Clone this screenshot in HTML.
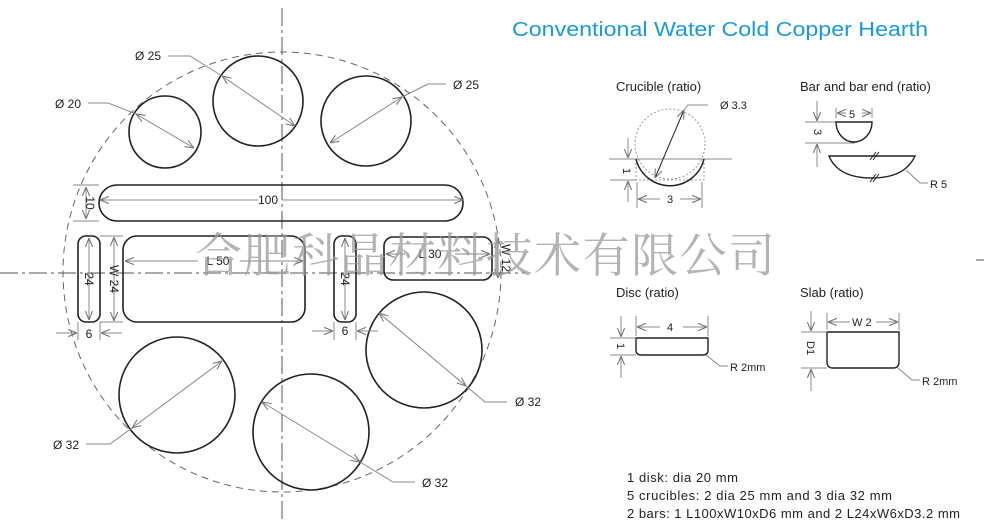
<!DOCTYPE html>
<html><head><meta charset="utf-8"><style>
html,body{margin:0;padding:0;background:#fff;}
svg{display:block;font-family:"Liberation Sans",sans-serif;}
</style></head><body>
<svg width="984" height="523" viewBox="0 0 984 523" xmlns="http://www.w3.org/2000/svg">
<defs>
<marker id="a" viewBox="0 0 10 10" refX="10" refY="5" markerWidth="9" markerHeight="9" orient="auto-start-reverse" markerUnits="userSpaceOnUse">
<path d="M0,1 L10,5 L0,9" fill="none" stroke="#777" stroke-width="1.2"/></marker>
</defs>
<g stroke="#555" stroke-width="1" fill="none" stroke-dasharray="18,4,3,4">
<line x1="282" y1="8" x2="282" y2="523"/>
<line x1="0" y1="273" x2="525" y2="273"/>
</g>
<ellipse cx="282" cy="272" rx="219" ry="220" fill="none" stroke="#666" stroke-width="1" stroke-dasharray="7,5"/>
<g fill="none" stroke="#222" stroke-width="1.6">
<circle cx="165" cy="132" r="36"/>
<circle cx="258" cy="101" r="45"/>
<circle cx="366" cy="121" r="45"/>
<rect x="99" y="185" width="364" height="36" rx="18"/>
<rect x="78" y="236" width="22" height="86" rx="8"/>
<rect x="123" y="236" width="182" height="86" rx="14"/>
<rect x="334" y="236" width="22" height="86" rx="8"/>
<rect x="384" y="237" width="108" height="43" rx="9"/>
<circle cx="177" cy="395" r="58"/>
<circle cx="311" cy="432" r="58"/>
<circle cx="424" cy="350" r="58"/>
</g>
<g stroke="#888" stroke-width="1" fill="none">
<line x1="136" y1="114" x2="194" y2="148" marker-start="url(#a)" marker-end="url(#a)"/>
<polyline points="88,103 108,103 136,114"/>
<line x1="222" y1="76" x2="295" y2="126" marker-start="url(#a)" marker-end="url(#a)"/>
<polyline points="168,56 190,56 222,76"/>
<line x1="330" y1="143" x2="402" y2="97" marker-start="url(#a)" marker-end="url(#a)"/>
<polyline points="402,97 428,84 446,84"/>
<line x1="100" y1="200" x2="258" y2="200" marker-start="url(#a)"/>
<line x1="282" y1="200" x2="463" y2="200" marker-end="url(#a)"/>
<line x1="73" y1="185" x2="99" y2="185"/><line x1="73" y1="221" x2="99" y2="221"/>
<line x1="86" y1="187" x2="86" y2="219" marker-start="url(#a)" marker-end="url(#a)"/>
<line x1="89" y1="238" x2="89" y2="320" marker-start="url(#a)" marker-end="url(#a)"/>
<line x1="114" y1="237" x2="114" y2="321" marker-start="url(#a)" marker-end="url(#a)"/>
<line x1="100" y1="236" x2="123" y2="236"/><line x1="100" y1="322" x2="123" y2="322"/>
<line x1="125" y1="261" x2="198" y2="261" marker-start="url(#a)"/>
<line x1="240" y1="261" x2="303" y2="261" marker-end="url(#a)"/>
<line x1="345" y1="238" x2="345" y2="320" marker-start="url(#a)" marker-end="url(#a)"/>
<line x1="386" y1="254" x2="405" y2="254" marker-start="url(#a)"/>
<line x1="455" y1="254" x2="490" y2="254" marker-end="url(#a)"/>
<line x1="498" y1="239" x2="498" y2="278" marker-start="url(#a)" marker-end="url(#a)"/>
<line x1="78" y1="322" x2="78" y2="340"/><line x1="100" y1="322" x2="100" y2="340"/>
<line x1="56" y1="333" x2="77" y2="333" marker-end="url(#a)"/>
<line x1="122" y1="333" x2="101" y2="333" marker-end="url(#a)"/>
<line x1="334" y1="322" x2="334" y2="340"/><line x1="356" y1="322" x2="356" y2="340"/>
<line x1="312" y1="331" x2="333" y2="331" marker-end="url(#a)"/>
<line x1="378" y1="331" x2="357" y2="331" marker-end="url(#a)"/>
<line x1="132" y1="428" x2="222" y2="361" marker-start="url(#a)" marker-end="url(#a)"/>
<polyline points="86,444 110,444 132,428"/>
<line x1="262" y1="402" x2="360" y2="462" marker-start="url(#a)" marker-end="url(#a)"/>
<polyline points="360,462 393,482 415,482"/>
<line x1="379" y1="313" x2="466" y2="386" marker-start="url(#a)" marker-end="url(#a)"/>
<polyline points="466,386 485,402 507,402"/>
</g>
<g font-size="12" fill="#222" text-anchor="middle">
<text x="68" y="108">Ø 20</text>
<text x="148" y="60">Ø 25</text>
<text x="466" y="89">Ø 25</text>
<text x="268" y="204">100</text>
<text x="218" y="265">L 50</text>
<text x="430" y="258">L 30</text>
<text x="89" y="338">6</text>
<text x="345" y="335">6</text>
<text x="66" y="449">Ø 32</text>
<text x="435" y="487">Ø 32</text>
<text x="528" y="406">Ø 32</text>
<text transform="translate(86,203) rotate(90)">10</text>
<text transform="translate(85,279) rotate(90)">24</text>
<text transform="translate(110,279) rotate(90)">W 24</text>
<text transform="translate(341,279) rotate(90)">24</text>
<text transform="translate(502,258) rotate(90)">W 12</text>
</g>
<text x="195" y="272" font-family="'Liberation Serif','Noto Serif CJK SC',serif" font-size="47" fill="#999" fill-opacity="0.75" textLength="580">合肥科晶材料技术有限公司</text>
<text x="512" y="36" font-size="20" fill="#1a9ad6" textLength="416" lengthAdjust="spacingAndGlyphs">Conventional Water Cold Copper Hearth</text>
<g font-size="13" fill="#222">
<text x="616" y="91">Crucible (ratio)</text>
<text x="800" y="91">Bar and bar end (ratio)</text>
<text x="616" y="297">Disc (ratio)</text>
<text x="800" y="297">Slab (ratio)</text>
</g>
<g fill="none" stroke-width="1">
<circle cx="670" cy="144" r="35" stroke="#999" stroke-dasharray="2,2"/>
<rect x="636" y="159" width="68" height="21" stroke="#999" stroke-dasharray="2,2"/>
<line x1="609" y1="159" x2="732" y2="159" stroke="#888"/>
<path d="M636,159 A35,35 0 0 0 704,159" stroke="#222" stroke-width="1.5"/>
<line x1="655" y1="178" x2="684" y2="110" stroke="#222" marker-start="url(#a)" marker-end="url(#a)"/>
<polyline points="684,110 688,105 708,105" stroke="#888"/>
<line x1="610" y1="180" x2="636" y2="180" stroke="#888"/>
<line x1="628" y1="138" x2="628" y2="158" stroke="#888" marker-end="url(#a)"/>
<line x1="628" y1="202" x2="628" y2="181" stroke="#888" marker-end="url(#a)"/>
<line x1="637" y1="182" x2="637" y2="208" stroke="#888"/>
<line x1="702" y1="182" x2="702" y2="208" stroke="#888"/>
<line x1="638" y1="199" x2="660" y2="199" stroke="#888" marker-start="url(#a)"/>
<line x1="680" y1="199" x2="701" y2="199" stroke="#888" marker-end="url(#a)"/>
</g>
<g font-size="11" fill="#222">
<text x="720" y="109">Ø 3.3</text>
<text x="667" y="203">3</text>
<text transform="translate(623,168) rotate(90)">1</text>
</g>
<g fill="none" stroke-width="1">
<line x1="805" y1="122" x2="872" y2="122" stroke="#888"/>
<line x1="805" y1="143" x2="855" y2="143" stroke="#888"/>
<path d="M836,122 A18,20 0 0 0 872,122 Z" stroke="#222" stroke-width="1.4"/>
<line x1="836" y1="108" x2="836" y2="118" stroke="#888"/><line x1="872" y1="108" x2="872" y2="118" stroke="#888"/>
<line x1="837" y1="113" x2="846" y2="113" stroke="#888" marker-start="url(#a)"/>
<line x1="862" y1="113" x2="871" y2="113" stroke="#888" marker-end="url(#a)"/>
<line x1="817" y1="101" x2="817" y2="121" stroke="#888" marker-end="url(#a)"/>
<line x1="817" y1="167" x2="817" y2="144" stroke="#888" marker-end="url(#a)"/>
<path d="M829,156 L915,156 Q905,178 872,178 Q838,178 829,156 Z" stroke="#222" stroke-width="1.4"/>
<path d="M870,160 l6,-8 M873,160 l6,-8 M870,182 l6,-8 M873,182 l6,-8" stroke="#222"/>
<polyline points="906,170 920,183 928,183" stroke="#888"/>
<path d="M636,338 L708,338 L708,350 Q708,355 703,355 L641,355 Q636,355 636,350 Z" stroke="#222" stroke-width="1.4"/>
<line x1="610" y1="338" x2="636" y2="338" stroke="#888"/><line x1="610" y1="355" x2="636" y2="355" stroke="#888"/>
<line x1="621" y1="316" x2="621" y2="337" stroke="#888" marker-end="url(#a)"/>
<line x1="621" y1="378" x2="621" y2="356" stroke="#888" marker-end="url(#a)"/>
<line x1="636" y1="316" x2="636" y2="336" stroke="#888"/><line x1="708" y1="316" x2="708" y2="336" stroke="#888"/>
<line x1="637" y1="327" x2="660" y2="327" stroke="#888" marker-start="url(#a)"/>
<line x1="683" y1="327" x2="707" y2="327" stroke="#888" marker-end="url(#a)"/>
<polyline points="706,355 720,366 728,366" stroke="#888"/>
<path d="M827,332 L899,332 L899,362 Q899,368 893,368 L833,368 Q827,368 827,362 Z" stroke="#222" stroke-width="1.4"/>
<line x1="801" y1="332" x2="827" y2="332" stroke="#888"/><line x1="801" y1="368" x2="827" y2="368" stroke="#888"/>
<line x1="811" y1="311" x2="811" y2="331" stroke="#888" marker-end="url(#a)"/>
<line x1="811" y1="391" x2="811" y2="369" stroke="#888" marker-end="url(#a)"/>
<line x1="827" y1="313" x2="827" y2="330" stroke="#888"/><line x1="899" y1="313" x2="899" y2="330" stroke="#888"/>
<line x1="828" y1="322" x2="850" y2="322" stroke="#888" marker-start="url(#a)"/>
<line x1="876" y1="322" x2="898" y2="322" stroke="#888" marker-end="url(#a)"/>
<polyline points="898,368 912,380 920,380" stroke="#888"/>
</g>
<g font-size="11" fill="#222">
<text x="849" y="118">5</text>
<text transform="translate(814,129) rotate(90)">3</text>
<text x="930" y="188">R 5</text>
<text x="667" y="331">4</text>
<text transform="translate(617,343) rotate(90)">1</text>
<text x="730" y="371">R 2mm</text>
<text x="852" y="326">W 2</text>
<text transform="translate(807,341) rotate(90)">D1</text>
<text x="922" y="385">R 2mm</text>
</g>
<g font-size="13" fill="#222" lengthAdjust="spacingAndGlyphs">
<text x="627" y="482" textLength="111">1 disk: dia 20 mm</text>
<text x="627" y="500" textLength="265">5 crucibles: 2 dia 25 mm and 3 dia 32 mm</text>
<text x="627" y="518" textLength="333">2 bars: 1 L100xW10xD6 mm and 2 L24xW6xD3.2 mm</text>
</g>
<line x1="976" y1="260" x2="984" y2="260" stroke="#555"/>
</svg>
</body></html>
